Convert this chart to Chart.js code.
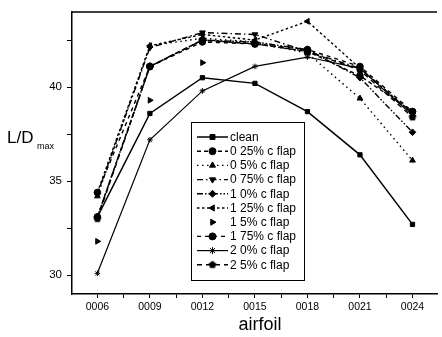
<!DOCTYPE html>
<html>
<head>
<meta charset="utf-8">
<script src="https://cdn.jsdelivr.net/npm/chart.js@4"></script>
<style>
  html, body { margin: 0; padding: 0; background: #fff; }
  #wrap { width: 442px; height: 337px; position: relative; }
</style>
</head>
<body>
<div id="wrap"><canvas id="c"></canvas></div>
<script>
// airfoil thickness (x position) and labels
const airfoils    = [6, 9, 12, 15, 18, 21, 24];
const airfoilTick = ['0006', '0009', '0012', '0015', '0018', '0021', '0024'];
const yMajor      = [30, 35, 40];
const yMinor      = [32.5, 37.5, 42.5];

// L/D max per flap size
const clean   = [33.1, 38.6, 40.5, 40.2, 38.7, 36.4, 32.7];
const flap025 = [33.1, 41.1, 42.5, 42.3, 41.9, 40.6, 38.7];
const flap05  = [34.2, 42.2, 42.6, 42.4, 41.8, 39.4, 36.1];
const flap075 = [34.3, 42.1, 42.9, 42.8, 41.9, 41.0, 38.6];
const flap10  = [33.1, 41.1, 42.5, 42.4, 42.0, 40.5, 37.6];
const flap125 = [34.4, 42.2, 42.8, 42.5, 43.5, 41.0, 38.6];
const flap15  = [31.8, 39.3, 41.3, 42.3, 41.9, 41.0, 38.5];
const flap175 = [34.4, 41.1, 42.4, 42.3, 42.0, 41.1, 38.7];
const flap20  = [30.1, 37.2, 39.8, 41.1, 41.6, 41.0, 38.5];
const flap25  = [33.0, 41.1, 42.5, 42.3, 41.9, 40.9, 38.4];

const FONT = 'Arial, "Liberation Sans", sans-serif';

// pentagon marker for 2.5% flap
function pentagon(r) {
  const cv = document.createElement('canvas');
  cv.width = cv.height = r * 2 + 2;
  const c = cv.getContext('2d');
  c.beginPath();
  for (let i = 0; i < 5; i++) {
    const a = -Math.PI / 2 + i * 2 * Math.PI / 5;
    const px = r + 1 + r * Math.cos(a), py = r + 1 + r * Math.sin(a);
    i ? c.lineTo(px, py) : c.moveTo(px, py);
  }
  c.closePath();
  c.fillStyle = '#000';
  c.fill();
  return cv;
}

function series(label, vals, style, rot, dash, showLine = true, width = 1.4, radius = 3.3) {
  return {
    label,
    data: vals.map((v, i) => ({ x: airfoils[i], y: v })),
    borderColor: '#000',
    backgroundColor: '#000',
    borderWidth: width,
    borderDash: dash,
    pointStyle: style,
    pointRotation: rot,
    pointRadius: radius,
    pointBorderWidth: 1,
    showLine,
    tension: 0,
  };
}

const datasets = [
  series('clean',        clean,   'rect',     0,   [], true, 1.5, 3),
  series('0 25% c flap', flap025, 'circle',   0,   [4, 3]),
  series('0 5% c flap',  flap05,  'triangle', 0,   [1.5, 3.5]),
  series('0 75% c flap', flap075, 'triangle', 180, [6, 3, 1.5, 3]),
  series('1 0% c flap',  flap10,  'rectRot',  0,   [6, 2, 1.5, 2, 1.5, 2]),
  series('1 25% c flap', flap125, 'triangle', 270, [2.5, 2.5]),
  series('1 5% c flap',  flap15,  'triangle', 90,  [], false),
  series('1 75% c flap', flap175, 'circle',   0,   [4, 4]),
  series('2 0% c flap',  flap20,  'star',     0,   [], true, 1.2, 2.8),
  series('2 5% c flap',  flap25,  pentagon(4), 0,  [5, 4]),
];

// axis titles, frame top and inner legend
const extras = {
  id: 'extras',
  afterDraw(chart) {
    const { ctx, chartArea: a } = chart;
    ctx.save();
    ctx.strokeStyle = '#000';
    ctx.lineWidth = 1.5;
    ctx.beginPath();
    ctx.moveTo(a.left, a.top);
    ctx.lineTo(a.right, a.top);
    ctx.stroke();

    ctx.fillStyle = '#000';
    ctx.textBaseline = 'alphabetic';
    ctx.textAlign = 'left';
    ctx.font = '17px ' + FONT;
    ctx.fillText('L/D', 7, 143);
    ctx.font = '9px ' + FONT;
    ctx.fillText('max', 37, 149);

    ctx.textAlign = 'center';
    ctx.font = '18px ' + FONT;
    ctx.fillText('airfoil', 260, 330);

    // legend box
    const lx = 191, ly = 122, lw = 113, lh = 158;
    ctx.fillStyle = '#fff';
    ctx.fillRect(lx, ly, lw, lh);
    ctx.lineWidth = 1;
    ctx.strokeStyle = '#000';
    ctx.strokeRect(lx + 0.5, ly + 0.5, lw, lh);

    ctx.font = '12px ' + FONT;
    ctx.textAlign = 'left';
    ctx.textBaseline = 'middle';
    chart.data.datasets.forEach((ds, i) => {
      const y = 137 + i * 14.2;
      if (ds.showLine) {
        ctx.save();
        ctx.lineWidth = ds.borderWidth;
        ctx.setLineDash(ds.borderDash);
        ctx.beginPath();
        ctx.moveTo(197, y);
        ctx.lineTo(228, y);
        ctx.stroke();
        ctx.restore();
      }
      ctx.fillStyle = '#000';
      Chart.helpers.drawPoint(ctx, {
        pointStyle: ds.pointStyle, rotation: ds.pointRotation,
        radius: 3.5, borderWidth: 1,
      }, 212.5, y);
      ctx.fillStyle = '#000';
      ctx.fillText(ds.label, 230, y + 0.5);
    });
    ctx.restore();
  }
};

new Chart(document.getElementById('c'), {
  type: 'line',
  data: { datasets },
  options: {
    responsive: true,
    maintainAspectRatio: false,
    animation: false,
    layout: { padding: { top: 5, right: 0, left: 0, bottom: 0 } },
    plugins: { legend: { display: false }, tooltip: { enabled: false } },
    scales: {
      x: {
        type: 'linear',
        min: 4.55, max: 25.4,
        afterBuildTicks: s => {
          const t = [];
          for (let v = 6; v <= 24; v += 1.5) t.push({ value: v });
          s.ticks = t;
        },
        afterFit: s => { s.height = 43; },
        ticks: {
          color: '#000',
          font: { family: FONT, size: 10.5 },
          padding: 3,
          maxRotation: 0,
          autoSkip: false,
          callback: v => {
            const i = airfoils.indexOf(v);
            return i >= 0 ? airfoilTick[i] : '';
          },
        },
        grid: { drawOnChartArea: false, drawTicks: true, tickLength: 4, color: '#000', lineWidth: 1 },
        border: { display: true, color: '#000', width: 1.5 },
      },
      y: {
        min: 29, max: 44,
        afterBuildTicks: s => {
          s.ticks = yMajor.concat(yMinor).sort((a, b) => a - b).map(v => ({ value: v }));
        },
        afterFit: s => { s.width = 72; },
        ticks: {
          color: '#000',
          font: { family: FONT, size: 11.5 },
          padding: 5,
          autoSkip: false,
          callback: v => yMajor.includes(v) ? String(v) : '',
        },
        grid: { drawOnChartArea: false, drawTicks: true, tickLength: 5, color: '#000', lineWidth: 1 },
        border: { display: true, color: '#000', width: 1.5 },
      }
    }
  },
  plugins: [extras]
});
</script>
</body>
</html>
